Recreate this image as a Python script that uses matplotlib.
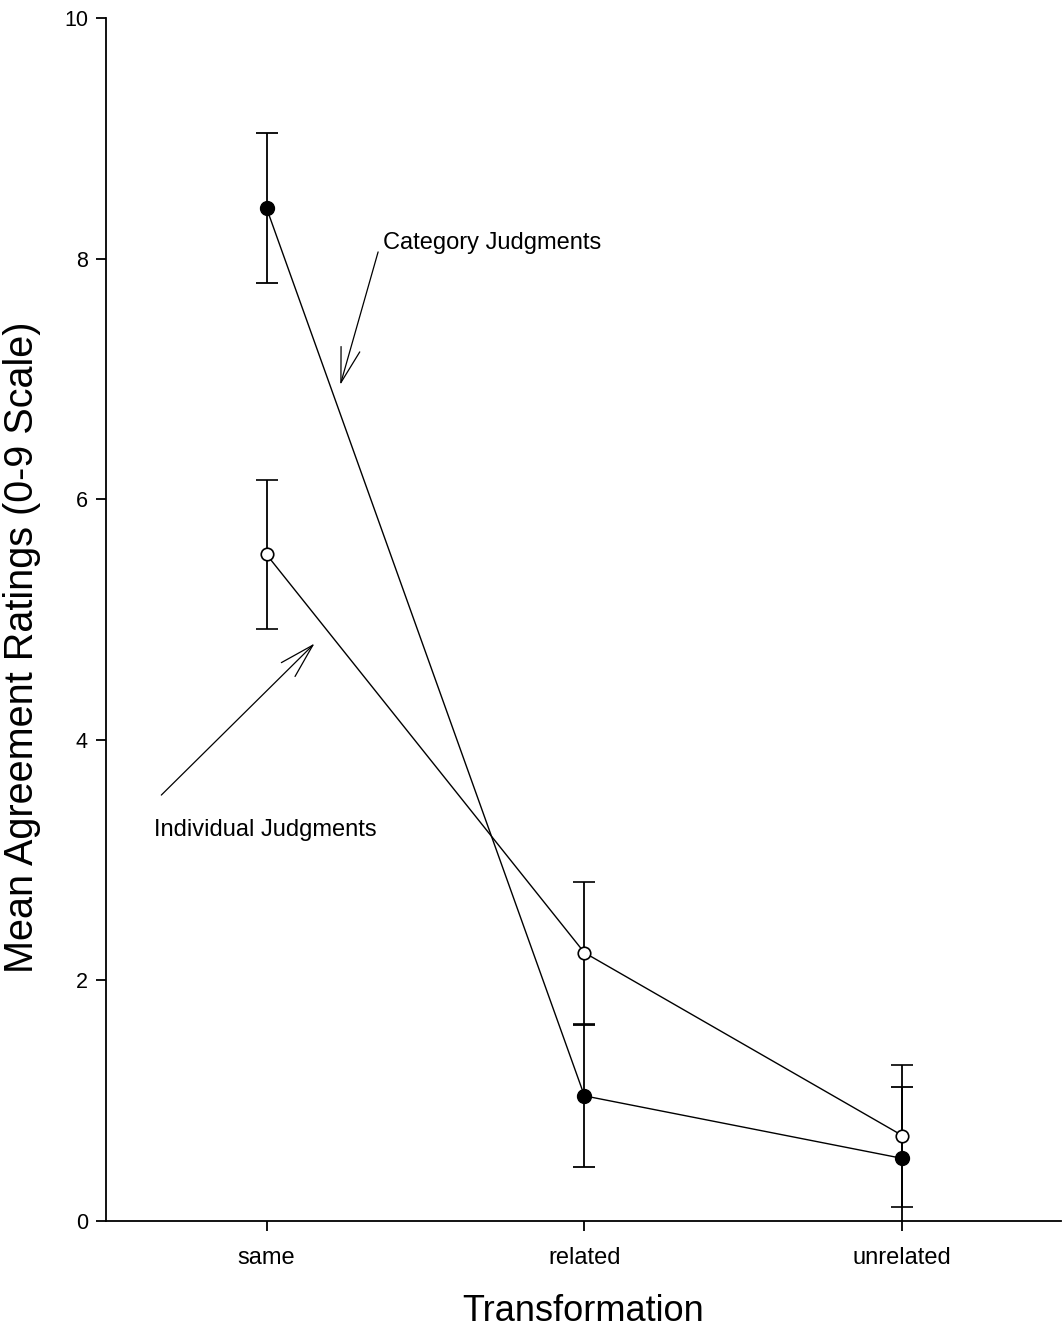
import matplotlib
matplotlib.use("Agg")
import matplotlib.pyplot as plt

plt.rcParams['font.family'] = ['Liberation Sans', 'DejaVu Sans']

categories = ["same", "related", "unrelated"]
category_means = [8.42, 1.04, 0.52]
category_err = [0.62, 0.59, 0.59]
individual_means = [5.54, 2.23, 0.71]
individual_err = [0.62, 0.59, 0.59]
y_ticks = [0, 2, 4, 6, 8, 10]

fig = plt.figure(figsize=(10.62, 13.29), dpi=100)
ax = fig.add_axes([0.0998, 0.0813, 0.8995, 0.9052])

x = list(range(len(categories)))

ax.errorbar(x, category_means, yerr=category_err, fmt='-o', color='black',
            mfc='black', mec='black', ms=10, lw=1.0, elinewidth=1.3,
            capsize=8, capthick=1.3, zorder=3)
ax.errorbar(x, individual_means, yerr=individual_err, fmt='-o', color='black',
            mfc='white', mec='black', ms=9, mew=1.2, lw=1.0, elinewidth=1.3,
            capsize=8, capthick=1.3, zorder=4)

ax.set_xlim(-0.505, 2.5)
ax.set_ylim(0, 10)
ax.set_yticks(y_ticks)
ax.set_xticks(x)
ax.set_xticklabels(categories, fontsize=17)
ax.tick_params(axis='y', labelsize=15.5, direction='out', length=7, width=1.3, pad=6)
ax.tick_params(axis='x', direction='out', length=7, width=1.3, pad=12)
for s in ['top', 'right']:
    ax.spines[s].set_visible(False)
for s in ['left', 'bottom']:
    ax.spines[s].set_linewidth(1.3)

ax.set_xlabel("Transformation", fontsize=26, labelpad=18)
ax.set_ylabel("Mean Agreement Ratings (0-9 Scale)", fontsize=28.5)
ax.yaxis.set_label_coords(-0.068, 0.477)

arrow_kw = dict(arrowstyle='->,head_length=2.5,head_width=0.7', lw=0.9,
                color='black', mutation_scale=10, shrinkA=0, shrinkB=0)
ax.annotate("", xy=(0.232, 6.95), xytext=(0.351, 8.055), arrowprops=arrow_kw)
ax.text(0.367, 8.13, "Category Judgments", fontsize=17, ha='left', va='center')
ax.annotate("", xy=(0.151, 4.80), xytext=(-0.331, 3.54), arrowprops=arrow_kw)
ax.text(-0.355, 3.25, "Individual Judgments", fontsize=17, ha='left', va='center')

fig.savefig("out.png", dpi=100)
